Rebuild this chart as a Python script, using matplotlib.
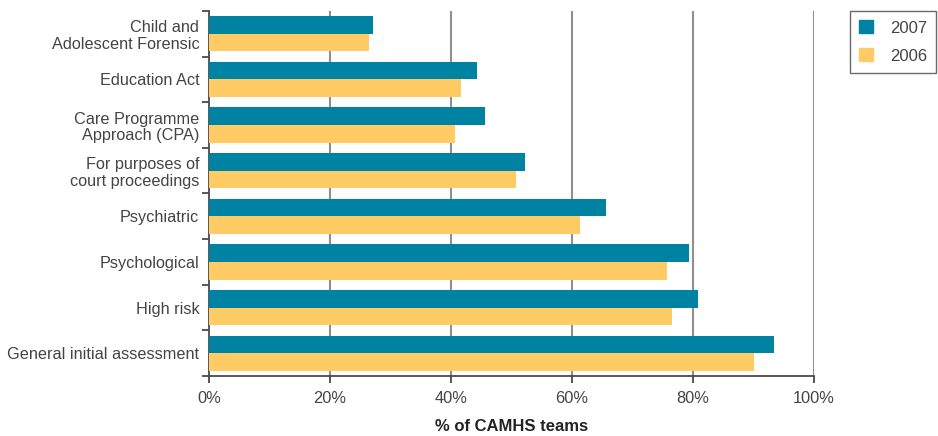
import numpy as np
import matplotlib.pyplot as plt
from matplotlib.patches import Patch

plt.rcParams["font.family"] = ["Liberation Sans", "DejaVu Sans"]

categories = [
    "Child and\nAdolescent Forensic",
    "Education Act",
    "Care Programme\nApproach (CPA)",
    "For purposes of\ncourt proceedings",
    "Psychiatric",
    "Psychological",
    "High risk",
    "General initial assessment",
]
values_2007 = [27.1, 44.4, 45.7, 52.2, 65.7, 79.3, 80.8, 93.5]
values_2006 = [26.5, 41.6, 40.7, 50.8, 61.4, 75.7, 76.5, 90.1]
x_ticks = [0, 20, 40, 60, 80, 100]

teal = "#0082A2"
yellow = "#FECB65"
text_col = "#444444"
axis_col = "#4a4a4a"

fig = plt.figure(figsize=(9.38, 4.36), dpi=100)
ax = fig.add_axes([209 / 938, 1 - 376 / 436, (813.7 - 209) / 938, 365 / 436])

y = np.arange(len(categories))
h = 0.385
ax.barh(y - h / 2, values_2007, height=h, color=teal, zorder=3)
ax.barh(y + h / 2, values_2006, height=h, color=yellow, zorder=3)

ax.set_xlim(0, 100)
ax.set_ylim(len(categories) - 0.5, -0.5)
ax.set_xticks(x_ticks)
ax.set_xticklabels([f"{v}%" for v in x_ticks], fontsize=11.8, color=text_col)
ax.set_yticks(y)
ax.set_yticklabels(categories, fontsize=11.7, color=text_col, linespacing=1.15)
ax.set_yticks(np.arange(len(categories) + 1) - 0.5, minor=True)
ax.tick_params(axis="y", which="major", length=0, pad=7)
ax.tick_params(axis="y", which="minor", length=5, width=1.3, color=axis_col)
ax.tick_params(axis="x", length=5, width=1.3, color=axis_col, pad=6)

for v in x_ticks[1:]:
    ax.axvline(v, color="#8f8f8f", lw=1.5, zorder=1)

for s in ["top", "right"]:
    ax.spines[s].set_visible(False)
for s in ["left", "bottom"]:
    ax.spines[s].set_color(axis_col)
    ax.spines[s].set_linewidth(1.3)

ax.set_xlabel("% of CAMHS teams", fontsize=12, fontweight="bold",
              color="#222222", labelpad=9)

handles = [Patch(color=teal), Patch(color=yellow)]
leg = fig.legend(handles, ["2007", "2006"], loc="upper left",
                 bbox_to_anchor=(850 / 938, 1 - 11 / 436),
                 fontsize=12, frameon=True, fancybox=False,
                 handlelength=0.85, handleheight=0.85, handletextpad=1.0,
                 borderpad=0.55, labelspacing=0.75, borderaxespad=0)
leg.get_frame().set_edgecolor("#444444")
leg.get_frame().set_linewidth(1.0)
for t in leg.get_texts():
    t.set_color(text_col)

fig.savefig("out.png", dpi=100)
